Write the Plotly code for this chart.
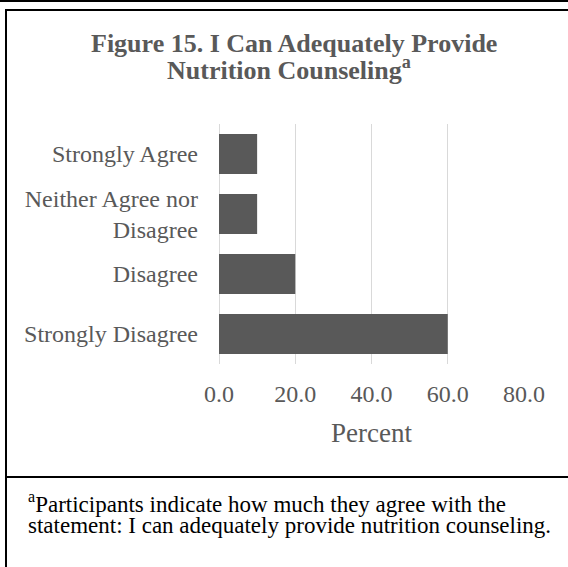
import plotly.graph_objects as go

# -------------------------------------------------
# DATA
# -------------------------------------------------
categories = [
    "Strongly Disagree",
    "Disagree",
    "Neither Agree nor<br>Disagree",
    "Strongly Agree",
]
percent = [60.0, 20.0, 10.0, 10.0]
tick_vals = [0, 20, 40, 60, 80]
tick_text = ["0.0", "20.0", "40.0", "60.0", "80.0"]

title_line1 = "Figure 15. I Can Adequately Provide"
title_line2 = "Nutrition Counseling<sup>a</sup>"
note_line1 = "<sup>a</sup>Participants indicate how much they agree with the"
note_line2 = "statement: I can adequately provide nutrition counseling."

# -------------------------------------------------
# GEOMETRY (pixels)
# -------------------------------------------------
W, H = 568, 567
L, R, T, B = 219, 44, 124, 203
PW, PH = W - L - R, H - T - B

SERIF = "Liberation Serif, Times New Roman, serif"
GRAY = "#595959"


def px(x):
    return (x - L) / PW


def py(y):
    return (H - B - y) / PH


fig = go.Figure(
    go.Bar(
        x=percent,
        y=categories,
        orientation="h",
        marker=dict(color=GRAY, line=dict(width=0)),
        width=0.667,
    )
)

fig.update_layout(
    width=W,
    height=H,
    margin=dict(l=L, r=R, t=T, b=B, pad=0),
    paper_bgcolor="white",
    plot_bgcolor="white",
    showlegend=False,
    font=dict(family=SERIF, color=GRAY, size=24),
)

fig.update_xaxes(
    range=[0, 80],
    tickvals=tick_vals,
    ticktext=tick_text,
    showgrid=True,
    gridcolor="#d9d9d9",
    gridwidth=1.3,
    zeroline=True,
    zerolinecolor="#d9d9d9",
    zerolinewidth=1.3,
    showline=False,
    ticks="outside",
    ticklen=8,
    tickcolor="rgba(0,0,0,0)",
    tickfont=dict(size=24, color=GRAY, family=SERIF),
)

fig.update_yaxes(
    showgrid=False,
    zeroline=False,
    showline=False,
    ticks="",
    ticklabelstandoff=20,
    tickfont=dict(size=24, color=GRAY, family=SERIF),
)

# borders of the frame
border = dict(color="black", width=2)
fig.add_shape(type="line", xref="paper", yref="paper",
              x0=px(0), x1=px(W), y0=py(1), y1=py(1), line=border)
fig.add_shape(type="line", xref="paper", yref="paper",
              x0=px(5), x1=px(W), y0=py(10), y1=py(10), line=border)
fig.add_shape(type="line", xref="paper", yref="paper",
              x0=px(6), x1=px(6), y0=py(10), y1=py(H), line=border)
fig.add_shape(type="line", xref="paper", yref="paper",
              x0=px(5), x1=px(W), y0=py(477), y1=py(477), line=border)

# title (two lines)
for txt, x, y in [(title_line1, 89, 43), (title_line2, 165, 69)]:
    fig.add_annotation(
        text=f"<b>{txt}</b>", xref="paper", yref="paper",
        x=px(x), y=py(y), xanchor="left", yanchor="middle",
        showarrow=False, font=dict(size=26, color=GRAY, family=SERIF),
    )

# axis title
fig.add_annotation(
    text="Percent", xref="paper", yref="paper",
    x=0.5, y=py(433), xanchor="center", yanchor="middle",
    showarrow=False, font=dict(size=27, color=GRAY, family=SERIF),
)

# footnote
for txt, x, y in [(note_line1, 26, 502), (note_line2, 26, 525)]:
    fig.add_annotation(
        text=txt, xref="paper", yref="paper",
        x=px(x), y=py(y), xanchor="left", yanchor="middle",
        showarrow=False, font=dict(size=23, color="black", family=SERIF),
    )

fig.write_html(
    "out.html",
    config={"displayModeBar": False},
    post_script="document.body.style.margin='0';",
)
